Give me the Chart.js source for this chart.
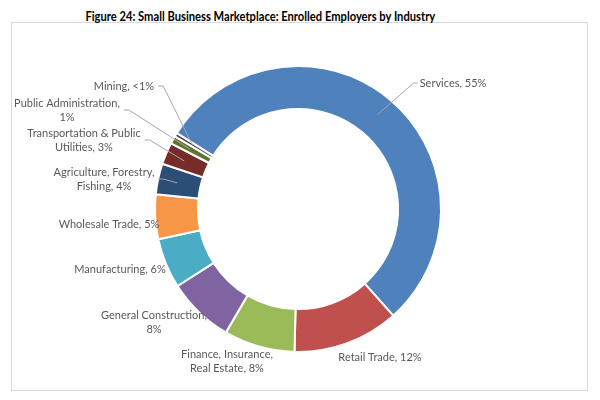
<!DOCTYPE html>
<html>
<head>
<meta charset="utf-8">
<script src="https://cdn.jsdelivr.net/npm/chart.js@4/dist/chart.umd.min.js"></script>
<style>
  html,body{margin:0;padding:0;background:#fff;}
  #wrap{position:relative;width:600px;height:400px;}
  #title{position:absolute;left:0;top:7px;width:520px;text-align:center;}
  #title span{display:inline-block;font:bold 13px Lato, "Liberation Sans", sans-serif;color:#000;transform:scaleX(0.86);transform-origin:center;white-space:nowrap;}
  #box{position:absolute;left:11px;top:22px;width:575px;height:367px;border:1px solid #d9d9d9;}
  canvas{position:absolute;left:0;top:0;}
</style>
</head>
<body>
<div id="wrap">
  <div id="box"></div>
  <div id="title"><span>Figure 24: Small Business Marketplace: Enrolled Employers by Industry</span></div>
  <canvas id="c" width="600" height="400"></canvas>
</div>
<script>
// ---- data ----
const categories = ["Services", "Retail Trade", "Finance, Insurance, Real Estate", "General Construction",
  "Manufacturing", "Wholesale Trade", "Agriculture, Forestry, Fishing", "Transportation & Public Utilities",
  "Public Administration", "Mining"];
const shares = [55, 12.1, 8.1, 7.6, 5.7, 5.1, 3.5, 2.5, 0.9, 0.4];
const shareLabels = ["55%", "12%", "8%", "8%", "6%", "5%", "4%", "3%", "1%", "<1%"];
const labelLines = [
  ["Services, 55%"],
  ["Retail Trade, 12%"],
  ["Finance, Insurance,", "Real Estate, 8%"],
  ["General Construction,", "8%"],
  ["Manufacturing, 6%"],
  ["Wholesale Trade, 5%"],
  ["Agriculture, Forestry,", "Fishing, 4%"],
  ["Transportation & Public", "Utilities, 3%"],
  ["Public Administration,", "1%"],
  ["Mining, <1%"]
];
const colors = ["#4F81BD", "#C0504D", "#9BBB59", "#8064A2", "#4BACC6", "#F79646",
  "#2C4D75", "#772C2A", "#5F7530", "#4D3B62"];

// ---- label layout (offsets of label block centre from doughnut centre) ----
const labelOffsets = [[155, -126], [82, 148], [-71, 152], [-144, 113], [-178, 60],
  [-189, 15], [-194, -30], [-214, -69], [-231, -99], [-174, -123]];
const leaderSide = ["left", null, null, null, null, null, "right", "right", "right", "right"];

const labelPlugin = {
  id: 'sliceLabels',
  afterDatasetsDraw(chart) {
    const ctx = chart.ctx;
    const meta = chart.getDatasetMeta(0);
    ctx.save();
    ctx.font = "11px Lato, 'Liberation Sans', sans-serif";
    ctx.fillStyle = "#595959";
    ctx.textAlign = "center";
    ctx.textBaseline = "middle";
    const lh = 14;
    meta.data.forEach((arc, i) => {
      const cx = arc.x, cy = arc.y;
      const lx = cx + labelOffsets[i][0], ly = cy + labelOffsets[i][1];
      const lines = labelLines[i];
      let maxW = 0;
      lines.forEach((t, k) => {
        const y = ly + (k - (lines.length - 1) / 2) * lh;
        ctx.fillText(t, lx, y);
        maxW = Math.max(maxW, ctx.measureText(t).width);
      });
      const side = leaderSide[i];
      if (side) {
        const mid = (arc.startAngle + arc.endAngle) / 2;
        const r = (arc.innerRadius + arc.outerRadius) / 2 + 2;
        const px = cx + Math.cos(mid) * r, py = cy + Math.sin(mid) * r;
        const ex = side === "left" ? lx - maxW / 2 - 2 : lx + maxW / 2 + 4;
        const ex2 = side === "left" ? ex - 4 : ex + 5;
        ctx.beginPath();
        ctx.strokeStyle = "#a6a6a6";
        ctx.lineWidth = 1;
        ctx.moveTo(ex, ly);
        ctx.lineTo(ex2, ly);
        ctx.lineTo(px, py);
        ctx.stroke();
      }
    });
    ctx.restore();
  }
};

new Chart(document.getElementById('c'), {
  type: 'doughnut',
  data: {
    labels: categories,
    datasets: [{
      data: shares,
      backgroundColor: colors,
      borderColor: "#ffffff",
      borderWidth: 2
    }]
  },
  options: {
    responsive: false,
    animation: false,
    rotation: -58,
    cutout: '70%',
    layout: { padding: { top: 65, bottom: 47, left: 153, right: 157 } },
    plugins: { legend: { display: false }, tooltip: { enabled: false }, title: { display: false } }
  },
  plugins: [labelPlugin]
});
</script>
</body>
</html>
